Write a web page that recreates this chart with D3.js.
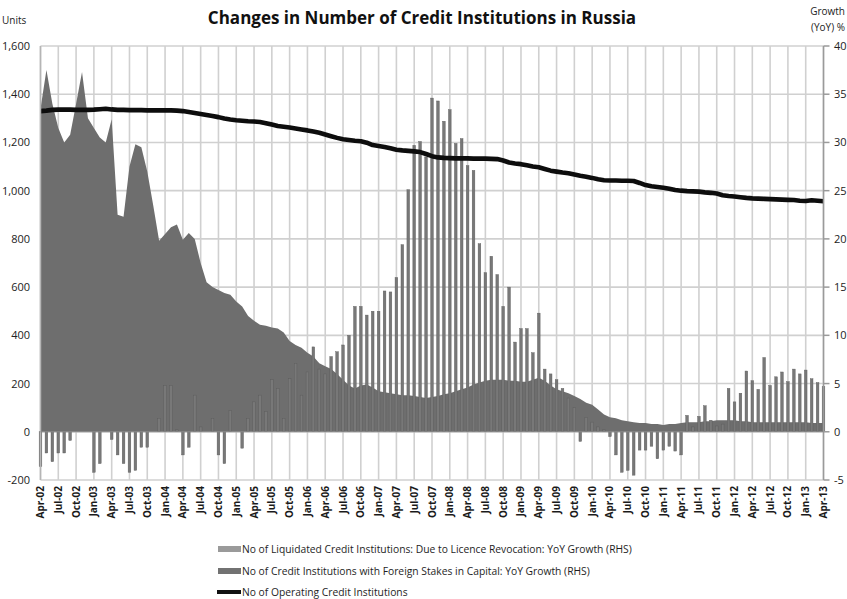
<!DOCTYPE html>
<html><head><meta charset="utf-8">
<script src="https://cdn.jsdelivr.net/npm/d3@7"></script>
<style>
html,body{margin:0;padding:0;background:#fff;}
svg{display:block;font-family:"Open Sans",sans-serif;}
</style></head>
<body>
<svg id="chart" width="847" height="599"></svg>
<script>
// ---------- DATA ----------
const monthNames = ["Jan","Feb","Mar","Apr","May","Jun","Jul","Aug","Sep","Oct","Nov","Dec"];
const startYear = 2002, startMonth = 3, nMonths = 133; // Apr-02 .. Apr-13
const categories = [];
for (let k = 0; k < nMonths; k++) {
  const m = (startMonth + k) % 12, y = startYear + Math.floor((startMonth + k) / 12);
  categories.push(monthNames[m] + "-" + String(y % 100).padStart(2, "0"));
}
const tickLabels = ["Apr-02","Jul-02","Oct-02","Jan-03","Apr-03","Jul-03","Oct-03","Jan-04","Apr-04","Jul-04","Oct-04","Jan-05","Apr-05","Jul-05","Oct-05","Jan-06","Apr-06","Jul-06","Oct-06","Jan-07","Apr-07","Jul-07","Oct-07","Jan-08","Apr-08","Jul-08","Oct-08","Jan-09","Apr-09","Jul-09","Oct-09","Jan-10","Apr-10","Jul-10","Oct-10","Jan-11","Apr-11","Jul-11","Oct-11","Jan-12","Apr-12","Jul-12","Oct-12","Jan-13","Apr-13"];
const leftTicks = [-200,0,200,400,600,800,1000,1200,1400,1600];
const leftTickLabels = ["-200","0","200","400","600","800","1,000","1,200","1,400","1,600"];
const rightTicks = [-5,0,5,10,15,20,25,30,35,40];

// No of Liquidated Credit Institutions: Due to Licence Revocation: YoY Growth (RHS), %
const liquidatedGrowth = [
 -3.6,-2.2,-3.1,-2.2,-2.2,-0.9,0,0,0,-4.2,
 -3.3,0,-0.8,-2.4,-3.3,-4.2,-4.0,-1.6,-1.6,0,
 1.4,4.8,4.8,0.2,-2.4,-1.6,3.8,0.5,0,1.4,
 -2.4,-3.3,2.2,0,-1.7,1.4,3.1,3.8,2.1,5.4,
 4.5,1.4,5.5,7.1,3.8,6.2,8.8,6.5,6.0,7.8,
 8.3,9.0,10.0,13.0,13.0,12.1,12.5,12.5,14.6,14.5,
 16.0,19.4,25.1,29.7,30.1,28.5,34.6,34.3,32.2,33.4,
 29.9,30.4,27.6,27.1,19.5,16.5,18.2,16.3,13.0,15.0,
 9.3,10.7,10.7,8.2,12.3,6.5,6.0,5.4,4.5,3.5,
 2.5,-1.0,1.5,1.0,0.5,0.2,-0.5,-2.4,-4.2,-4.0,
 -4.5,-1.9,-1.9,-1.5,-2.8,-1.9,-1.5,-2.0,-2.4,1.7,
 0.5,1.6,2.7,1.2,0.6,0.8,4.5,3.1,4.0,6.3,
 5.3,4.4,7.7,4.8,5.7,6.2,5.2,6.5,6.0,6.4,
 5.5,5.1,4.7
];
// No of Credit Institutions with Foreign Stakes in Capital: YoY Growth (RHS), %
const foreignGrowth = [
 33.5,37.5,34,31.5,30,30.8,34,37.3,32.5,31.5,
 30.5,30,32.4,22.5,22.3,27.5,29.8,29.5,27,23.5,
 19.8,20.5,21.2,21.5,19.9,20.6,20,17.5,15.5,15,
 14.7,14.4,14.2,13.5,13,12,11.5,11.1,11,10.8,
 10.7,10.3,9.4,9,8.7,8.2,7.8,7.1,6.8,6.5,
 6,5.4,4.8,4.5,4.8,4.9,4.6,4.2,4.1,4.0,
 3.9,3.8,3.8,3.7,3.6,3.5,3.6,3.7,3.9,4.0,
 4.2,4.4,4.6,4.9,5.1,5.3,5.4,5.4,5.4,5.3,
 5.3,5.2,5.2,5.4,5.6,5.3,4.8,4.4,4.2,4.0,
 3.7,3.4,3.0,2.8,2.3,1.8,1.5,1.4,1.2,1.1,
 1.0,0.9,0.9,0.8,0.8,0.7,0.8,0.8,0.9,1.0,
 1.0,1.0,1.1,1.1,1.2,1.2,1.2,1.2,1.1,1.1,
 1.0,1.0,1.0,1.0,1.0,1.0,1.0,1.0,1.0,1.0,
 0.9,0.9,0.9
];
// No of Operating Credit Institutions (LHS), units
const operating = [
 1330,1332,1335,1336,1336,1336,1335,1335,1335,1336,
 1338,1340,1337,1335,1335,1334,1334,1334,1333,1333,
 1333,1333,1333,1332,1330,1326,1322,1318,1314,1310,
 1305,1299,1295,1292,1290,1288,1287,1285,1280,1274,
 1268,1265,1262,1258,1254,1250,1245,1240,1233,1226,
 1219,1213,1210,1207,1205,1199,1189,1185,1181,1176,
 1170,1167,1165,1163,1160,1152,1143,1138,1136,1135,
 1134,1134,1134,1133,1133,1133,1132,1131,1125,1117,
 1113,1110,1105,1100,1097,1090,1083,1079,1075,1072,
 1067,1062,1058,1053,1047,1043,1042,1042,1041,1041,
 1040,1032,1023,1018,1015,1012,1008,1003,1000,998,
 997,996,993,991,988,981,978,976,973,970,
 968,967,966,965,964,963,962,961,958,957,
 960,958,956
];

const seriesNames = [
 "No of Liquidated Credit Institutions: Due to Licence Revocation: YoY Growth (RHS)",
 "No of Credit Institutions with Foreign Stakes in Capital: YoY Growth (RHS)",
 "No of Operating Credit Institutions"
];

// ---------- CHART ----------
const svg = d3.select("#chart");
const plotL = 40.5, plotR = 823.5, plotT = 46, plotB = 480;

const x = d3.scalePoint().domain(categories).range([plotL, plotR]).padding(0);
const yL = d3.scaleLinear().domain([-200, 1600]).range([plotB, plotT]);
const yR = d3.scaleLinear().domain([-5, 40]).range([plotB, plotT]);

const grid = svg.append("g");
grid.selectAll("line.h").data(leftTicks).join("line")
  .attr("x1", plotL).attr("x2", plotR)
  .attr("y1", d => yL(d)).attr("y2", d => yL(d))
  .attr("stroke", "#d0d0d0").attr("stroke-width", 1.6);
grid.selectAll("line.v").data(tickLabels).join("line")
  .attr("x1", d => x(d)).attr("x2", d => x(d))
  .attr("y1", plotT).attr("y2", plotB)
  .attr("stroke", "#d0d0d0").attr("stroke-width", 1.6);

// area
const area = d3.area()
  .x((d, i) => x(categories[i]))
  .y0(yR(0)).y1(d => yR(d));
svg.append("path").datum(foreignGrowth)
  .attr("d", area).attr("fill", "#6e6e6e");

// bars
const bw = 2.7;
svg.append("g").selectAll("rect").data(liquidatedGrowth).join("rect")
  .attr("x", (d, i) => x(categories[i]) - bw / 2)
  .attr("width", bw)
  .attr("y", d => yR(Math.max(0, d)))
  .attr("height", d => Math.abs(yR(d) - yR(0)))
  .attr("fill", "#787878")
  .attr("stroke", "#5a5a5a").attr("stroke-width", 0.4);

// line
const line = d3.line().x((d, i) => x(categories[i])).y(d => yL(d));
svg.append("path").datum(operating)
  .attr("d", line).attr("fill", "none")
  .attr("stroke", "#0d0d0d").attr("stroke-width", 4.6).attr("stroke-linejoin", "round");

// axes lines
svg.append("line").attr("x1", plotL).attr("x2", plotL).attr("y1", plotT).attr("y2", plotB)
  .attr("stroke", "#b5b5b5").attr("stroke-width", 1.5);
svg.append("line").attr("x1", plotR).attr("x2", plotR).attr("y1", plotT).attr("y2", plotB)
  .attr("stroke", "#9a9a9a").attr("stroke-width", 1.5);
svg.append("line").attr("x1", plotL).attr("x2", plotR).attr("y1", yL(0)).attr("y2", yL(0))
  .attr("stroke", "#8a8a8a").attr("stroke-width", 1);

// left axis labels
svg.append("g").selectAll("text").data(leftTicks).join("text")
  .attr("x", 30).attr("y", d => yL(d) + 4)
  .attr("text-anchor", "end").attr("font-size", 11).attr("fill", "#222")
  .text((d, i) => leftTickLabels[i]);

// right axis ticks + labels
svg.append("g").selectAll("line").data(rightTicks).join("line")
  .attr("x1", plotR).attr("x2", plotR + 6)
  .attr("y1", d => yR(d)).attr("y2", d => yR(d))
  .attr("stroke", "#9a9a9a").attr("stroke-width", 1.5);
svg.append("g").selectAll("text").data(rightTicks).join("text")
  .attr("x", 834).attr("y", d => yR(d) + 4)
  .attr("text-anchor", "start").attr("font-size", 11).attr("fill", "#222")
  .text(d => d);

// x labels
svg.append("g").selectAll("text").data(tickLabels).join("text")
  .attr("transform", d => `translate(${x(d) + 3.5},486) rotate(-90)`)
  .attr("text-anchor", "end").attr("font-size", 10).attr("font-weight", "bold").attr("fill", "#1a1a1a")
  .text(d => d);

// titles
svg.append("text").attr("x", 422).attr("y", 24).attr("text-anchor", "middle")
  .attr("font-size", 17).attr("font-weight", "bold").attr("fill", "#111")
  .text("Changes in Number of Credit Institutions in Russia");
svg.append("text").attr("x", 2).attr("y", 24).attr("font-size", 10).attr("fill", "#222").text("Units");
svg.append("text").attr("x", 845).attr("y", 15).attr("text-anchor", "end").attr("font-size", 10).attr("fill", "#222").text("Growth");
svg.append("text").attr("x", 845).attr("y", 31).attr("text-anchor", "end").attr("font-size", 10).attr("fill", "#222").text("(YoY) %");

// legend
const lg = svg.append("g");
const legY = [549, 571, 592];
lg.append("rect").attr("x", 218).attr("y", legY[0] - 3).attr("width", 23).attr("height", 6).attr("fill", "#9a9a9a");
lg.append("rect").attr("x", 218).attr("y", legY[1] - 3).attr("width", 23).attr("height", 6).attr("fill", "#727272");
lg.append("line").attr("x1", 217).attr("x2", 241).attr("y1", legY[2]).attr("y2", legY[2])
  .attr("stroke", "#111").attr("stroke-width", 4);
lg.selectAll("text").data(seriesNames).join("text")
  .attr("x", 242).attr("y", (d, i) => legY[i] + 3.5)
  .attr("font-size", 10.3).attr("fill", "#1e1e1e")
  .text(d => d);
</script>
</body></html>
